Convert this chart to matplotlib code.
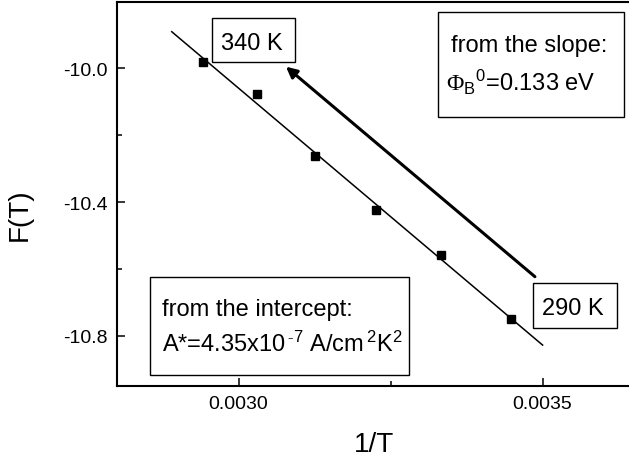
import numpy as np
import matplotlib
matplotlib.use("Agg")
import matplotlib.pyplot as plt
from matplotlib.patches import Rectangle
from matplotlib.ticker import MultipleLocator, FormatStrFormatter

plt.rcParams["font.family"] = ["Liberation Sans", "DejaVu Sans"]
plt.rcParams["axes.unicode_minus"] = False
plt.rcParams["mathtext.fontset"] = "custom"
plt.rcParams["mathtext.rm"] = "Liberation Serif"
plt.rcParams["mathtext.sf"] = "Liberation Sans"
plt.rcParams["mathtext.default"] = "sf"

# measurement temperatures (K) and F(T) values
temperatures = [340, 330, 320, 310, 300, 290]
f_values = [-9.982, -10.075, -10.263, -10.424, -10.558, -10.751]
inv_t = [1.0 / t for t in temperatures]

# range over which the linear fit is drawn
fit_x_span = [0.00289, 0.0035]

slope_text = ["from the slope:", r"$\mathrm{\Phi}_{B}{}^{0}$=0.133 eV"]
intercept_text = ["from the intercept:",
                  r"A*=4.35x10$^{\,\text{-}7}$ A/cm$^{\,2}$K$^{2}$"]

fig = plt.figure(figsize=(6.29, 4.64), dpi=100)
ax = fig.add_axes([0.186, 0.1666, 0.870, 0.8276])

# linear fit of F(T) against 1/T
coef = np.polyfit(inv_t, f_values, 1)
fx = np.array(fit_x_span)
ax.plot(fx, np.polyval(coef, fx), color="black", lw=1.1)
ax.plot(inv_t, f_values, "s", color="black", markersize=5.5)

ax.set_xlim(0.0028, 0.0037)
ax.set_ylim(-10.95, -9.8)
ax.xaxis.set_major_locator(MultipleLocator(0.0005))
ax.xaxis.set_minor_locator(MultipleLocator(0.00025))
ax.yaxis.set_major_locator(MultipleLocator(0.4))
ax.yaxis.set_minor_locator(MultipleLocator(0.2))
ax.xaxis.set_major_formatter(FormatStrFormatter("%.4f"))
ax.yaxis.set_major_formatter(FormatStrFormatter("%.1f"))
ax.tick_params(which="both", direction="in", width=1.1, labelsize=14, pad=7)
ax.tick_params(which="major", length=6)
ax.tick_params(which="minor", length=3.8)
for side in ax.spines.values():
    side.set_linewidth(1.5)

ax.set_xlabel("1/T", fontsize=20)
ax.set_ylabel("F(T)", fontsize=20)
ax.xaxis.set_label_coords(0.4696, -0.118)
ax.yaxis.set_label_coords(-0.1535, 0.447)

# heating direction arrow
ax.annotate("", xy=(0.3088, 0.8307), xytext=(0.7637, 0.2839),
            xycoords="axes fraction", textcoords="axes fraction",
            arrowprops=dict(arrowstyle="-|>", lw=2.2, color="black",
                            mutation_scale=16, shrinkA=0, shrinkB=0))


def framed(x0, y0, x1, y1):
    ax.add_patch(Rectangle((x0, y0), x1 - x0, y1 - y0, transform=ax.transAxes,
                           fill=True, facecolor="white", edgecolor="black",
                           lw=1.0, clip_on=False, zorder=3))


framed(0.1730, 0.8422, 0.3252, 0.9576)
ax.text(0.2470, 0.8768, "340 K", transform=ax.transAxes, fontsize=17,
        ha="center", va="baseline", zorder=4)

framed(0.7596, 0.1503, 0.9130, 0.2674)
ax.text(0.8337, 0.1867, "290 K", transform=ax.transAxes, fontsize=17,
        ha="center", va="baseline", zorder=4)

framed(0.5871, 0.6990, 0.9264, 0.9724)
ax.text(0.6096, 0.8716, slope_text[0], transform=ax.transAxes, fontsize=17,
        ha="left", va="baseline", zorder=4)
ax.text(0.6021, 0.7708, slope_text[1], transform=ax.transAxes, fontsize=17,
        ha="left", va="baseline", zorder=4)

framed(0.0603, 0.0279, 0.5341, 0.2823)
ax.text(0.0817, 0.1830, intercept_text[0], transform=ax.transAxes,
        fontsize=17, ha="left", va="baseline", zorder=4)
ax.text(0.0817, 0.0896, intercept_text[1], transform=ax.transAxes,
        fontsize=17, ha="left", va="baseline", zorder=4)

fig.savefig("out.png", dpi=100)
